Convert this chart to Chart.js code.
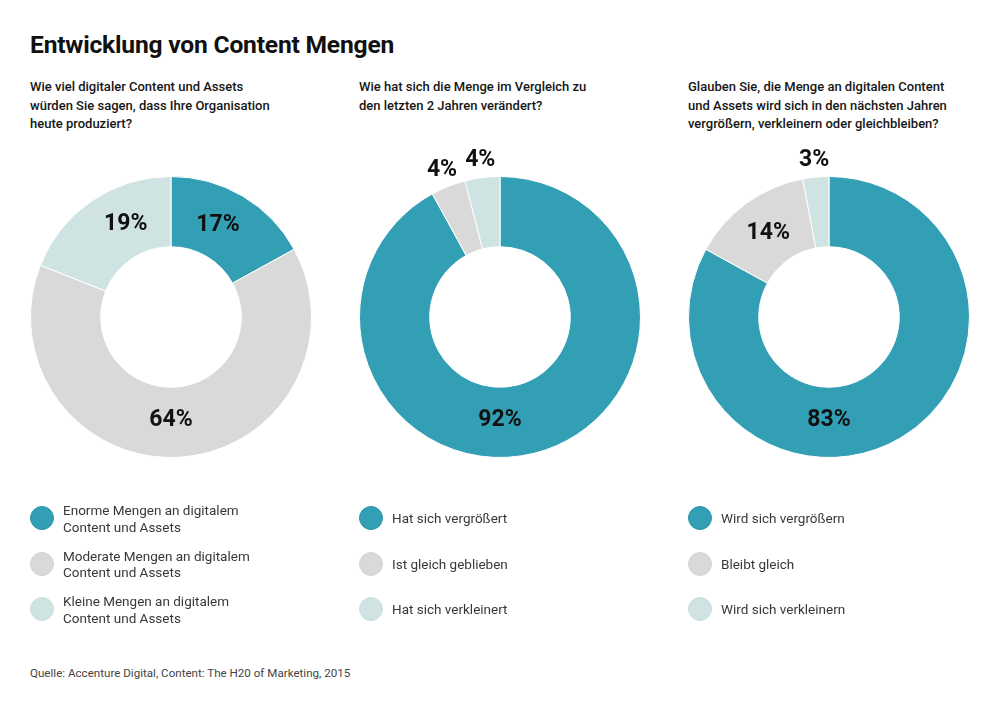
<!DOCTYPE html>
<html>
<head>
<meta charset="utf-8">
<script src="https://cdn.jsdelivr.net/npm/chart.js@4"></script>
<style>
  html, body { margin: 0; padding: 0; background: #fff; overflow: hidden; }
  #page { position: relative; width: 1000px; height: 706px; font-family: Roboto, sans-serif; }
  h1 { position: absolute; left: 30px; top: 30px; margin: 0; font: 700 24.6px Roboto, sans-serif; color: #111; letter-spacing: -0.2px; }
  .frage { position: absolute; top: 78px; width: 310px; font: 500 13px/18.5px Roboto, sans-serif; color: #161616; }
  .donut { position: absolute; top: 137px; width: 300px; height: 360px; }
  .legende { position: absolute; top: 496px; width: 300px; }
  .eintrag { position: relative; height: 45.5px; }
  .punkt { position: absolute; left: 0; width: 24px; height: 24px; border-radius: 50%; top: 10px; box-sizing: border-box; }
  .text { position: absolute; left: 33px; top: 0; height: 45px; display: flex; align-items: center; font: 400 13.5px/16.5px Roboto, sans-serif; color: #383838; white-space: nowrap; }
  #quelle { position: absolute; left: 30px; top: 666px; font: 400 11.6px Roboto, sans-serif; color: #444; }
</style>
</head>
<body>
<div id="page">
  <h1>Entwicklung von Content Mengen</h1>
  <div id="quelle">Quelle: Accenture Digital, Content: The H20 of Marketing, 2015</div>
</div>
<script>
const farben = ["#329fb5", "#d9d9d9", "#cfe4e2"];
const randFarben = ["#2b93a9", "#d4d4d4", "#c8dfdd"];

const fragen = [
  "Wie viel digitaler Content und Assets<br>würden Sie sagen, dass Ihre Organisation<br>heute produziert?",
  "Wie hat sich die Menge im Vergleich zu<br>den letzten 2 Jahren verändert?",
  "Glauben Sie, die Menge an digitalen Content<br>und Assets wird sich in den nächsten Jahren<br>vergrößern, verkleinern oder gleichbleiben?"
];

const kategorien1 = ["Enorme Mengen an digitalem<br>Content und Assets", "Moderate Mengen an digitalem<br>Content und Assets", "Kleine Mengen an digitalem<br>Content und Assets"];
const kategorien2 = ["Hat sich vergrößert", "Ist gleich geblieben", "Hat sich verkleinert"];
const kategorien3 = ["Wird sich vergrößern", "Bleibt gleich", "Wird sich verkleinern"];

const werte1 = [17, 64, 19];
const werte2 = [92, 4, 4];
const werte3 = [83, 14, 3];

// Winkel der Prozentangaben (Grad im Uhrzeigersinn ab oben), null = Mitte des Segments
const labelWinkel1 = [27, 180, -26];
const labelWinkel2 = [180, null, null];
const labelWinkel3 = [180, null, null];

const spaltenX = [30, 359, 688];

const prozentLabels = {
  id: "prozentLabels",
  afterDatasetsDraw(chart, args, opts) {
    const ctx = chart.ctx;
    const werte = chart.data.datasets[0].data;
    chart.getDatasetMeta(0).data.forEach((arc, i) => {
      const p = arc.getProps(["x", "y", "startAngle", "endAngle", "innerRadius", "outerRadius"], true);
      let winkel = (p.startAngle + p.endAngle) / 2;
      if (opts.winkel[i] !== null) {
        winkel = (opts.winkel[i] - 90) * Math.PI / 180;
      }
      const klein = werte[i] < 5;
      const r = klein ? p.outerRadius + 17 : (p.innerRadius + p.outerRadius) / 2 - 2;
      ctx.save();
      ctx.font = "700 23px Roboto, sans-serif";
      ctx.fillStyle = "#111";
      ctx.textAlign = "center";
      ctx.textBaseline = "middle";
      ctx.fillText(werte[i] + "%", p.x + r * Math.cos(winkel), p.y + r * Math.sin(winkel));
      ctx.restore();
    });
  }
};

const baueSpalte = (nr, kategorien, werte, winkel) => {
  const page = document.querySelector("#page");
  const links = spaltenX[nr];

  const frage = document.createElement("div");
  frage.className = "frage";
  frage.style.left = links + "px";
  frage.innerHTML = fragen[nr];
  page.appendChild(frage);

  const box = document.createElement("div");
  box.className = "donut";
  box.style.left = (links - 9) + "px";
  const canvas = document.createElement("canvas");
  box.appendChild(canvas);
  page.appendChild(box);

  new Chart(canvas.getContext("2d"), {
    type: "doughnut",
    data: {
      labels: kategorien.map((k) => k.replace("<br>", " ")),
      datasets: [{
        data: werte,
        backgroundColor: farben,
        borderColor: "#ffffff",
        borderWidth: 1,
      }],
    },
    options: {
      responsive: true,
      maintainAspectRatio: false,
      animation: false,
      cutout: "50%",
      layout: { padding: { top: 39, bottom: 39, left: 9, right: 9 } },
      plugins: {
        legend: { display: false },
        tooltip: { enabled: false },
        prozentLabels: { winkel: winkel },
      },
    },
    plugins: [prozentLabels],
  });

  const legende = document.createElement("div");
  legende.className = "legende";
  legende.style.left = links + "px";
  kategorien.forEach((k, i) => {
    const eintrag = document.createElement("div");
    eintrag.className = "eintrag";
    eintrag.innerHTML = `<div class="punkt" style="background:${farben[i]};border:1px solid ${randFarben[i]}"></div><div class="text">${k}</div>`;
    legende.appendChild(eintrag);
  });
  page.appendChild(legende);
};

baueSpalte(0, kategorien1, werte1, labelWinkel1);
baueSpalte(1, kategorien2, werte2, labelWinkel2);
baueSpalte(2, kategorien3, werte3, labelWinkel3);
</script>
</body>
</html>
